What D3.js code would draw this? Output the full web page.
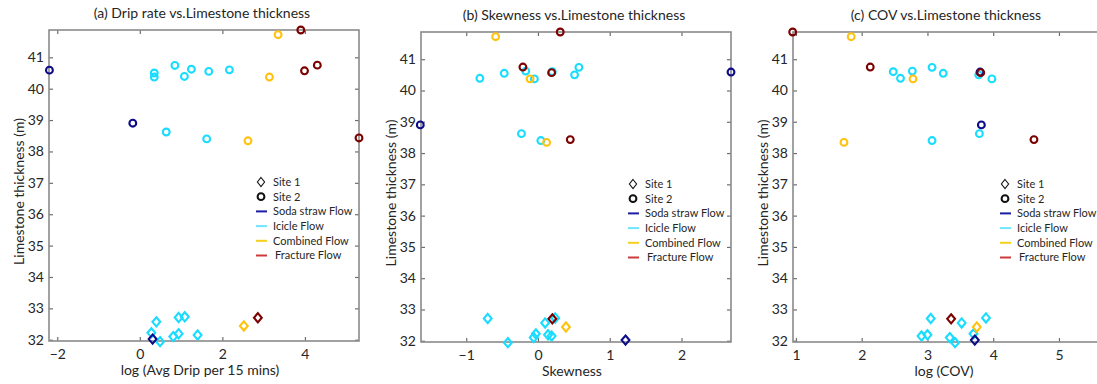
<!DOCTYPE html>
<html>
<head>
<meta charset="utf-8">
<script src="https://cdn.jsdelivr.net/npm/d3@7"></script>
<style>
    body { margin: 0; background: #fff; }
    svg text { font-family: Lato, "Open Sans", sans-serif; fill: #262626; }
</style>
</head>
<body>
<div id="chart"></div>
<script>
// ---- data ----
const flowNames = ["Soda straw Flow", "Icicle Flow", "Combined Flow", "Fracture Flow"];
const siteNames = ["Site 1", "Site 2"];
const yTicks = [32, 33, 34, 35, 36, 37, 38, 39, 40, 41];

// limestone thickness (m), shared by all three panels
const site1SodaY = [32.02];
const site1IcicleY = [32.73, 32.71, 32.57, 32.22, 32.19, 32.15, 32.10, 31.94];
const site1CombinedY = [32.44];
const site1FractureY = [32.70];
const site2SodaY = [40.59, 38.90];
const site2IcicleY = [40.74, 40.62, 40.60, 40.55, 40.50, 40.39, 40.37, 38.62, 38.40];
const site2CombinedY = [41.72, 40.37, 38.34];
const site2FractureY = [41.87, 40.75, 40.57, 38.43];

// (a) log (Avg Drip per 15 mins)
const dripTicks = [-2, 0, 2, 4];
const dripSite1Soda = [0.31];
const dripSite1Icicle = [1.09, 0.94, 0.40, 0.28, 0.94, 1.40, 0.81, 0.49];
const dripSite1Combined = [2.52];
const dripSite1Fracture = [2.86];
const dripSite2Soda = [-2.19, -0.17];
const dripSite2Icicle = [0.85, 1.25, 2.17, 1.67, 0.35, 1.08, 0.35, 0.64, 1.62];
const dripSite2Combined = [3.35, 3.14, 2.62];
const dripSite2Fracture = [3.90, 4.30, 3.99, 5.31];

// (b) Skewness
const skewTicks = [-1, 0, 1, 2];
const skewSite1Soda = [1.22];
const skewSite1Icicle = [0.24, -0.70, 0.10, -0.03, 0.14, 0.19, -0.06, -0.42];
const skewSite1Combined = [0.39];
const skewSite1Fracture = [0.20];
const skewSite2Soda = [2.69, -1.64];
const skewSite2Icicle = [0.57, -0.17, 0.20, -0.47, 0.51, -0.81, -0.05, -0.23, 0.04];
const skewSite2Combined = [-0.59, -0.11, 0.12];
const skewSite2Fracture = [0.31, -0.21, 0.19, 0.45];

// (c) log (COV)
const covTicks = [1, 2, 3, 4, 5];
const covSite1Soda = [3.72];
const covSite1Icicle = [3.89, 3.05, 3.52, 3.70, 3.00, 2.91, 3.34, 3.42];
const covSite1Combined = [3.75];
const covSite1Fracture = [3.36];
const covSite2Soda = [3.80, 3.82];
const covSite2Icicle = [3.07, 2.77, 2.48, 3.24, 3.78, 2.59, 3.98, 3.79, 3.07];
const covSite2Combined = [1.84, 2.78, 1.73];
const covSite2Fracture = [0.95, 2.13, 3.81, 4.62];

// ---- styles ----
const markerColor = { "Soda straw Flow": "#0c0c8a", "Icicle Flow": "#19dcff", "Combined Flow": "#ffc20e", "Fracture Flow": "#7d0000" };
const legendColor = { "Soda straw Flow": "#1c1ca6", "Icicle Flow": "#6fe6ff", "Combined Flow": "#f5d01c", "Fracture Flow": "#cc3a3a" };
const drawOrder = ["Icicle Flow", "Combined Flow", "Soda straw Flow", "Fracture Flow"];

function buildPoints(xs, ys) {
    // xs / ys: [site][flow] arrays, matched by index
    let pts = [];
    siteNames.forEach((site, s) => {
        flowNames.forEach((flow, f) => {
            xs[s][f].forEach((v, i) => pts.push({ site: site, flow: flow, x: v, y: ys[s][f][i] }));
        });
    });
    return pts;
}

const thicknessY = [
    [site1SodaY, site1IcicleY, site1CombinedY, site1FractureY],
    [site2SodaY, site2IcicleY, site2CombinedY, site2FractureY]
];

const panels = [
    {
        title: "(a) Drip rate vs.Limestone thickness", xLabel: "log (Avg Drip per 15 mins)",
        left: 49, top: 30, height: 311, xDomain: [-2.2, 5.31], xTicks: dripTicks,
        points: buildPoints([[dripSite1Soda, dripSite1Icicle, dripSite1Combined, dripSite1Fracture],
                             [dripSite2Soda, dripSite2Icicle, dripSite2Combined, dripSite2Fracture]], thicknessY)
    },
    {
        title: "(b) Skewness vs.Limestone thickness", xLabel: "Skewness",
        left: 421, top: 32, height: 310, xDomain: [-1.63, 2.69], xTicks: skewTicks,
        points: buildPoints([[skewSite1Soda, skewSite1Icicle, skewSite1Combined, skewSite1Fracture],
                             [skewSite2Soda, skewSite2Icicle, skewSite2Combined, skewSite2Fracture]], thicknessY)
    },
    {
        title: "(c) COV vs.Limestone thickness", xLabel: "log (COV)",
        left: 793, top: 32, height: 310, xDomain: [0.955, 5.67], xTicks: covTicks,
        points: buildPoints([[covSite1Soda, covSite1Icicle, covSite1Combined, covSite1Fracture],
                             [covSite2Soda, covSite2Icicle, covSite2Combined, covSite2Fracture]], thicknessY)
    }
];

class ThicknessScatter {
    constructor(svg, config) {
        this.svg = svg;
        this.config = config;
        this.initVis();
    }

    initVis() {
        let vis = this;
        let cfg = vis.config;

        vis.width = 310;
        vis.height = cfg.height;

        vis.g = vis.svg.append("g")
            .attr("transform", "translate(" + cfg.left + "," + cfg.top + ")");

        vis.x = d3.scaleLinear().domain(cfg.xDomain).range([0, vis.width]);
        vis.y = d3.scaleLinear().domain([31.96, 41.87]).range([vis.height, 0]);

        vis.diamond = "M0,-4.6L3.9,0L0,4.6L-3.9,0Z";

        vis.drawAxes();
        vis.updateVis();
        vis.drawLegend();
    }

    drawAxes() {
        let vis = this;
        let cfg = vis.config;
        let fmt = d3.format("d");

        vis.g.append("g")
            .attr("class", "x axis")
            .attr("transform", "translate(0," + vis.height + ")")
            .call(d3.axisBottom(vis.x).tickValues(cfg.xTicks).tickFormat(fmt)
                .tickSizeInner(-4).tickSizeOuter(0).tickPadding(8));

        vis.g.append("g")
            .attr("class", "x2 axis")
            .call(d3.axisTop(vis.x).tickValues(cfg.xTicks).tickFormat("").tickSizeInner(-4).tickSizeOuter(0));

        vis.g.append("g")
            .attr("class", "y axis")
            .call(d3.axisLeft(vis.y).tickValues(yTicks).tickFormat(fmt)
                .tickSizeInner(-4).tickSizeOuter(0).tickPadding(5));

        vis.g.append("g")
            .attr("class", "y2 axis")
            .attr("transform", "translate(" + vis.width + ",0)")
            .call(d3.axisRight(vis.y).tickValues(yTicks).tickFormat("").tickSizeInner(-4).tickSizeOuter(0));

        vis.g.selectAll(".axis .domain").remove();
        vis.g.selectAll(".axis line")
            .style("stroke", "#6e6e6e")
            .style("stroke-width", "1.2px");
        vis.g.selectAll(".axis text")
            .style("font-size", "14px")
            .style("fill", "#262626");

        // box
        vis.g.append("rect")
            .attr("width", vis.width)
            .attr("height", vis.height)
            .style("fill", "none")
            .style("stroke", "#8a8a8a")
            .style("stroke-width", "1.6px");

        vis.g.append("text")
            .attr("class", "title")
            .attr("x", vis.width / 2 - 2)
            .attr("y", -12)
            .style("text-anchor", "middle")
            .style("font-size", "14px")
            .text(cfg.title);

        vis.g.append("text")
            .attr("class", "x-label")
            .attr("x", vis.width / 2 - 4)
            .attr("y", vis.height + 34)
            .style("text-anchor", "middle")
            .style("font-size", "14px")
            .text(cfg.xLabel);

        vis.g.append("text")
            .attr("class", "y-label")
            .attr("transform", "translate(" + (-25) + "," + (vis.height / 2 + 6) + ") rotate(-90)")
            .style("text-anchor", "middle")
            .style("font-size", "14px")
            .text("Limestone thickness (m)");
    }

    updateVis() {
        let vis = this;
        let pts = vis.config.points.slice()
            .sort((a, b) => drawOrder.indexOf(a.flow) - drawOrder.indexOf(b.flow));

        let marks = vis.g.append("g").attr("class", "data");

        marks.selectAll(".site2")
            .data(pts.filter(d => d.site === "Site 2"))
            .enter().append("circle")
            .attr("class", "site2")
            .attr("cx", d => vis.x(d.x))
            .attr("cy", d => vis.y(d.y))
            .attr("r", 3.4)
            .style("fill", "none")
            .style("stroke", d => markerColor[d.flow])
            .style("stroke-width", "2.1px");

        marks.selectAll(".site1")
            .data(pts.filter(d => d.site === "Site 1"))
            .enter().append("path")
            .attr("class", "site1")
            .attr("d", vis.diamond)
            .attr("transform", d => "translate(" + vis.x(d.x) + "," + vis.y(d.y) + ")")
            .style("fill", "none")
            .style("stroke", d => markerColor[d.flow])
            .style("stroke-width", "2.1px");
    }

    drawLegend() {
        let vis = this;
        let legend = vis.g.append("g")
            .attr("class", "legend")
            .attr("transform", "translate(" + 212 + "," + 152 + ")");

        let rowH = 14.7;
        let items = siteNames.concat(flowNames);

        let rows = legend.selectAll("g")
            .data(items)
            .enter().append("g")
            .attr("transform", (d, i) => "translate(0," + i * rowH + ")");

        rows.filter(d => d === "Site 1").append("path")
            .attr("d", "M0,-4.5L3.6,0L0,4.5L-3.6,0Z")
            .style("fill", "none")
            .style("stroke", "#111")
            .style("stroke-width", "1.1px");

        rows.filter(d => d === "Site 2").append("circle")
            .attr("r", 3.4)
            .style("fill", "none")
            .style("stroke", "#111")
            .style("stroke-width", "2px");

        rows.filter(d => flowNames.includes(d)).append("line")
            .attr("x1", -5).attr("x2", 6)
            .style("stroke", d => legendColor[d])
            .style("stroke-width", "2px");

        rows.append("text")
            .attr("x", d => d === "Fracture Flow" ? 14 : 12)
            .attr("dy", "0.35em")
            .style("font-size", "11px")
            .text(d => d);
    }
}

let svg = d3.select("#chart").append("svg")
    .attr("width", 1097)
    .attr("height", 384);

panels.forEach(p => new ThicknessScatter(svg, p));
</script>
</body>
</html>
